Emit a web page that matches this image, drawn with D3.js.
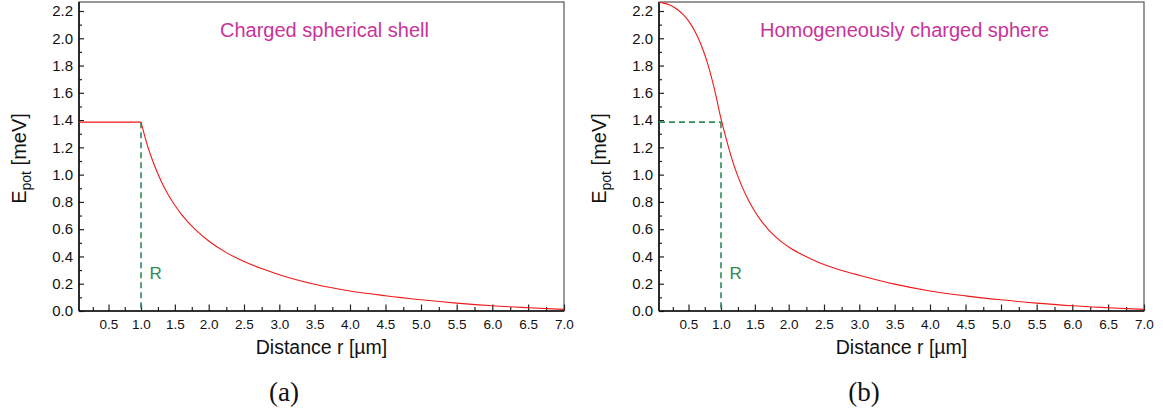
<!DOCTYPE html>
<html>
<head>
<meta charset="utf-8">
<script src="https://cdn.jsdelivr.net/npm/d3@7"></script>
<style>
  html, body { margin: 0; padding: 0; background: #fff; }
  svg { display: block; }
  text { font-family: "Liberation Sans", Arial, Helvetica, sans-serif; }
</style>
</head>
<body>
<svg id="chart" width="1163" height="417"></svg>
<script>
// ---------- data ----------
const titles = ["Charged spherical shell", "Homogeneously charged sphere"];
const captions = ["(a)", "(b)"];
const xAxisLabel = "Distance r [\u00b5m]";
const yAxisMain = "E";
const yAxisSub = "pot";
const yAxisUnit = " [meV]";
const radiusLabel = "R";

// Charged spherical shell: flat inside, decaying outside
const rShellIn = [0.03, 1.0];
const eShellIn = [1.385, 1.385];
const rShellOut = [1.0, 1.1, 1.2, 1.3, 1.4, 1.5, 1.6, 1.8, 2.0, 2.25, 2.5, 2.75, 3.0, 3.5, 4.0, 4.5, 5.0, 5.5, 6.0, 6.5, 7.0];
const eShellOut = [1.385, 1.205, 1.065, 0.950, 0.855, 0.775, 0.707, 0.598, 0.513, 0.428, 0.363, 0.311, 0.266, 0.196, 0.147, 0.112, 0.083, 0.058, 0.038, 0.024, 0.012];

// Homogeneously charged sphere
const rSphere = [0.03, 0.1, 0.2, 0.3, 0.4, 0.5, 0.6, 0.7, 0.8, 0.9, 1.0, 1.1, 1.2, 1.3, 1.4, 1.5, 1.6, 1.7, 1.8, 1.9, 2.0, 2.2, 2.4, 2.6, 2.8, 3.0, 3.5, 4.0, 4.5, 5.0, 5.5, 6.0, 6.5, 7.0];
const eSphere = [2.262, 2.258, 2.244, 2.218, 2.180, 2.128, 2.050, 1.945, 1.805, 1.625, 1.410, 1.220, 1.055, 0.925, 0.818, 0.730, 0.657, 0.597, 0.547, 0.505, 0.469, 0.410, 0.362, 0.323, 0.290, 0.262, 0.197, 0.147, 0.111, 0.082, 0.058, 0.038, 0.024, 0.012];

// radius marker
const rRadius = 1.0;
const eRadius = 1.385;
const rLabelPos = [1.05, 0.235];

// axes
const xMajorTicks = [0.5, 1.0, 1.5, 2.0, 2.5, 3.0, 3.5, 4.0, 4.5, 5.0, 5.5, 6.0, 6.5, 7.0];
const xMinorTicks = [0.25, 0.75, 1.25, 1.75, 2.25, 2.75, 3.25, 3.75, 4.25, 4.75, 5.25, 5.75, 6.25, 6.75];
const yMajorTicks = [0.0, 0.2, 0.4, 0.6, 0.8, 1.0, 1.2, 1.4, 1.6, 1.8, 2.0, 2.2];
const yMinorTicks = [0.1, 0.3, 0.5, 0.7, 0.9, 1.1, 1.3, 1.5, 1.7, 1.9, 2.1];
const xDomainStops = [0.03, 0.5, 1, 2, 3, 4, 5, 6, 7];
const yDomain = [0, 2.266];

// ---------- layout ----------
const W = 485, H = 309;
const panelOrigins = [[79, 2], [659, 2]];
const xRangeStops = [0, 29.5, 62, 129.7, 200.3, 271, 342, 413.3, 485];

const svg = d3.select("#chart");
svg.append("rect").attr("width", 1163).attr("height", 417).attr("fill", "#fff");

const x = d3.scaleLinear().domain(xDomainStops).range(xRangeStops);
const y = d3.scaleLinear().domain(yDomain).range([H, 0]);
const fmt = d3.format(".1f");

const red = "#f01818";
const green = "#2e8b57";
const magenta = "#c8339a";

function drawPanel(i, series) {
  const g = svg.append("g").attr("transform", `translate(${panelOrigins[i][0]},${panelOrigins[i][1]})`);

  // axes
  const xMinor = d3.axisBottom(x).tickValues(xMinorTicks).tickSize(-4).tickFormat("");
  const xMajor = d3.axisBottom(x).tickValues(xMajorTicks).tickSize(-6.5).tickPadding(8).tickFormat(fmt);
  const yMinor = d3.axisLeft(y).tickValues(yMinorTicks).tickSize(-3).tickFormat("");
  const yMajor = d3.axisLeft(y).tickValues(yMajorTicks).tickSize(-5).tickPadding(6).tickFormat(fmt);

  [[xMinor, true], [xMajor, true], [yMinor, false], [yMajor, false]].forEach(([ax, isX]) => {
    const a = g.append("g").attr("transform", isX ? `translate(0,${H})` : null).call(ax);
    a.select(".domain").remove();
    a.selectAll("line").attr("stroke", "#222").attr("stroke-width", 1.2);
    a.selectAll("text").attr("fill", "#111")
      .style("font-size", isX ? "13.5px" : "15px")
      .style("font-family", '"Liberation Sans", Arial, sans-serif');
  });

  // frame
  g.append("rect").attr("x", 0).attr("y", 0).attr("width", W).attr("height", H)
    .attr("fill", "none").attr("stroke", "#333").attr("stroke-width", 1);
  g.append("line").attr("x1", 0).attr("x2", 0).attr("y1", 0).attr("y2", H)
    .attr("stroke", "#111").attr("stroke-width", 1.6);
  g.append("line").attr("x1", 0).attr("x2", W).attr("y1", H).attr("y2", H)
    .attr("stroke", "#111").attr("stroke-width", 1.6);

  // dashed radius markers
  if (i === 1) {
    g.append("line").attr("x1", x(xDomainStops[0])).attr("x2", x(rRadius))
      .attr("y1", y(eRadius)).attr("y2", y(eRadius))
      .attr("stroke", green).attr("stroke-width", 1.6).attr("stroke-dasharray", "6,4");
  }
  g.append("line").attr("x1", x(rRadius)).attr("x2", x(rRadius))
    .attr("y1", y(eRadius)).attr("y2", y(0))
    .attr("stroke", green).attr("stroke-width", 1.6).attr("stroke-dasharray", "6,4");

  // curves
  const line = d3.line().x(d => x(d[0])).y(d => y(d[1])).curve(d3.curveMonotoneX);
  series.forEach(s => {
    g.append("path").datum(s[0].map((r, k) => [r, s[1][k]]))
      .attr("d", line).attr("fill", "none").attr("stroke", red).attr("stroke-width", 1.1);
  });

  // R label
  g.append("text").attr("x", x(rLabelPos[0]) + 5).attr("y", y(rLabelPos[1]))
    .attr("fill", green).style("font-size", "17px").text(radiusLabel);

  // title
  g.append("text").attr("x", W / 2 + 3).attr("y", 35).attr("text-anchor", "middle")
    .attr("fill", magenta).style("font-size", "20px").text(titles[i]);

  // x-axis label
  g.append("text").attr("x", W / 2).attr("y", H + 43).attr("text-anchor", "middle")
    .attr("fill", "#111").style("font-size", "19.5px").text(xAxisLabel);

  // y-axis label
  const yl = g.append("text").attr("transform", `translate(-53,${H / 2 + 2}) rotate(-90)`)
    .attr("text-anchor", "middle").attr("fill", "#111").style("font-size", "20px");
  yl.append("tspan").text(yAxisMain);
  yl.append("tspan").attr("dy", 5).style("font-size", "14px").text(yAxisSub);
  yl.append("tspan").attr("dy", -5).text(yAxisUnit);

  // caption
  g.append("text").attr("x", 205).attr("y", 399).attr("text-anchor", "middle")
    .attr("fill", "#111").style("font-family", '"Liberation Serif", "DejaVu Serif", serif')
    .style("font-size", "27px").text(captions[i]);
}

drawPanel(0, [[rShellIn, eShellIn], [rShellOut, eShellOut]]);
drawPanel(1, [[rSphere, eSphere]]);
</script>
</body>
</html>
